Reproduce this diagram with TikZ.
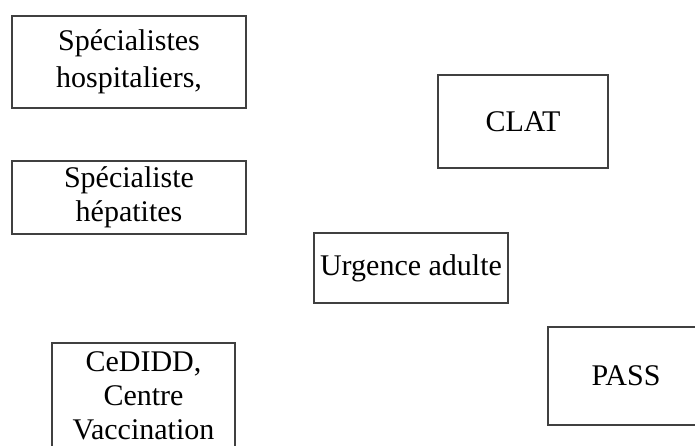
\documentclass[tikz,border=0pt]{standalone}
\usepackage{fontspec}
\setmainfont{Liberation Serif}
\usepackage{tikz}
\tikzstyle{normalBox} = [shape=rectangle, draw=black!75, text=black, line width=1.2pt,
	align=center, fill=white, inner sep=0pt, font=\fontsize{15}{17}\selectfont]
\tikzstyle{WideBox} = [normalBox, minimum width=117pt, minimum height=46pt]
\tikzstyle{TallBox} = [normalBox, minimum width=91.5pt, minimum height=53pt]
\tikzstyle{ShortBox} = [normalBox, minimum width=85pt, minimum height=46.5pt]
\tikzstyle{FlatBox} = [normalBox, minimum width=97pt, minimum height=35pt]

\begin{document}
\begin{tikzpicture}[node distance=67.75pt]
  \fill[white] (0,0) rectangle (347.5pt,-222.5pt);
  \useasboundingbox (0,0) rectangle (347.5pt,-222.5pt);

  \node (SPH) [WideBox] at (64.5pt,-31pt) {Spécialistes\\[1.5pt]hospitaliers,};
  \node (HEP) [WideBox, minimum height=36.5pt, below of=SPH] {Spécialiste\\hépatites};
  \node (CED) [TallBox, below of=HEP, xshift=7.25pt, yshift=-31.5pt] {CeDIDD,\\Centre\\Vaccination};

  \node (CLAT) [ShortBox, right of=SPH, xshift=129.25pt, yshift=-29.75pt] {CLAT};
  \node (URG) [FlatBox, below of=CLAT, xshift=-56pt, yshift=-5.5pt] {Urgence adulte};
  \node (PASS) [ShortBox, minimum width=78pt, minimum height=49pt, right of=URG, xshift=39.75pt, yshift=-54pt] {PASS};

\end{tikzpicture}
\end{document}
